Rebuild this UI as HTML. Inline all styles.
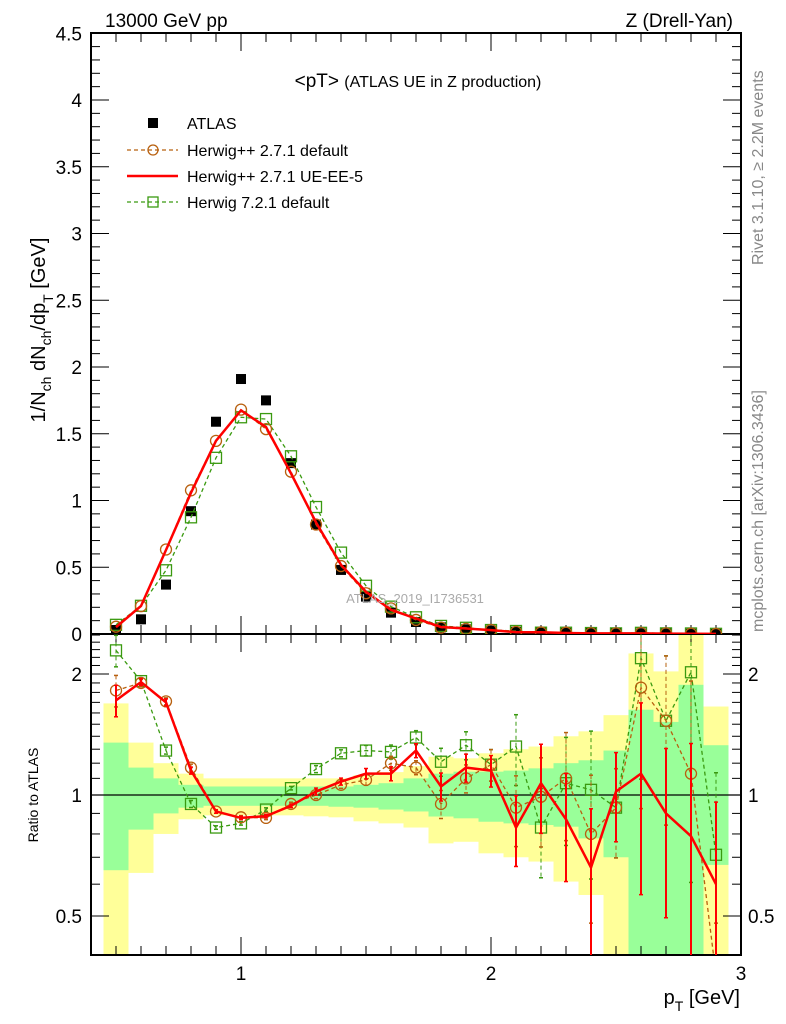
<!DOCTYPE html>
<html><head><meta charset="utf-8"><style>
html,body{margin:0;padding:0;background:#fff;width:786px;height:1024px;overflow:hidden;}
svg{display:block;font-family:"Liberation Sans",sans-serif;}
</style></head><body>
<svg id="c" width="786" height="1024" viewBox="0 0 786 1024" xmlns="http://www.w3.org/2000/svg">
<defs id="defs"></defs>
<g id="bands"></g>
<g id="grid"></g>
<g id="series"></g>
<text x="105" y="27" font-size="19">13000 GeV pp</text>
<text x="733" y="27" font-size="19" text-anchor="end">Z (Drell-Yan)</text>
<text x="418" y="87" font-size="19" text-anchor="middle">&lt;pT&gt; <tspan font-size="16">(ATLAS UE in Z production)</tspan></text>
<text x="415" y="603" font-size="13" fill="#aaa" text-anchor="middle">ATLAS_2019_I1736531</text>
<text transform="translate(763,265) rotate(-90)" font-size="16" fill="#888">Rivet 3.1.10, ≥ 2.2M events</text>
<text transform="translate(763,632) rotate(-90)" font-size="16" fill="#888">mcplots.cern.ch [arXiv:1306.3436]</text>
<text transform="translate(45,330) rotate(-90)" font-size="20" text-anchor="middle">1/N<tspan font-size="14" dy="6">ch</tspan><tspan dy="-6"> dN</tspan><tspan font-size="14" dy="6">ch</tspan><tspan dy="-6">/dp</tspan><tspan font-size="14" dy="8">T</tspan><tspan dy="-8"> [GeV]</tspan></text>
<text transform="translate(38,795) rotate(-90)" font-size="14" text-anchor="middle">Ratio to ATLAS</text>
<text x="740" y="1004" font-size="20" text-anchor="end">p<tspan font-size="14" dy="7">T</tspan><tspan dy="-7"> [GeV]</tspan></text>
<g id="legend">
<g><rect x="148" y="118" width="10" height="10" fill="#000"/><text x="187" y="129" font-size="16">ATLAS</text></g>
<g><line x1="127" y1="150" x2="178" y2="150" stroke="#b8600f" stroke-dasharray="4,3" stroke-width="1.3"/><circle cx="153" cy="150" r="5" fill="none" stroke="#b8600f" stroke-width="1.3"/><text x="187" y="156" font-size="16">Herwig++ 2.7.1 default</text></g>
<g><line x1="127" y1="176" x2="178" y2="176" stroke="#f00" stroke-width="2.5"/><text x="187" y="182" font-size="16">Herwig++ 2.7.1 UE-EE-5</text></g>
<g><line x1="127" y1="202" x2="178" y2="202" stroke="#3a9a10" stroke-dasharray="4,3" stroke-width="1.3"/><rect x="148" y="197" width="10" height="10" fill="none" stroke="#3a9a10" stroke-width="1.3"/><text x="187" y="208" font-size="16">Herwig 7.2.1 default</text></g>
</g>
</svg>
<script>
const pT=[0.5,0.6,0.7,0.8,0.9,1.0,1.1,1.2,1.3,1.4,1.5,1.6,1.7,1.8,1.9,2.0,2.1,2.2,2.3,2.4,2.5,2.6,2.7,2.8,2.9];
const atlas=[0.03,0.11,0.37,0.92,1.59,1.91,1.75,1.28,0.82,0.48,0.28,0.16,0.09,0.05,0.035,0.025,0.017,0.012,0.009,0.007,0.005,0.004,0.003,0.002,0.002];
const ratioUE=[1.72,1.91,1.70,1.15,0.91,0.877,0.886,0.94,1.02,1.08,1.13,1.13,1.29,1.05,1.17,1.15,0.83,1.07,0.87,0.66,1.02,1.13,0.90,0.79,0.60];
const ratioHppDef=[1.82,1.90,1.71,1.17,0.91,0.88,0.877,0.95,1.0,1.06,1.09,1.2,1.17,0.95,1.10,1.19,0.93,0.99,1.10,0.80,0.93,1.85,1.53,1.13,0.3];
const ratioH7=[2.29,1.92,1.29,0.95,0.83,0.85,0.92,1.04,1.16,1.27,1.29,1.28,1.39,1.21,1.33,1.19,1.32,0.83,1.07,1.03,0.93,2.19,1.53,2.02,0.71];
const relErr=[0.09,0.02,0.02,0.02,0.01,0.01,0.01,0.01,0.02,0.02,0.03,0.04,0.04,0.08,0.08,0.09,0.2,0.25,0.3,0.4,0.25,0.5,0.45,0.7,0.6];
const yelHi=[1.69,1.35,1.2,1.13,1.10,1.10,1.10,1.10,1.10,1.10,1.12,1.14,1.18,1.245,1.234,1.27,1.30,1.32,1.40,1.44,1.58,2.25,2.03,2.6,1.66];
const yelLo=[0.3,0.64,0.80,0.87,0.89,0.89,0.89,0.89,0.885,0.88,0.86,0.85,0.83,0.758,0.765,0.716,0.70,0.683,0.609,0.564,0.3,0.3,0.49,0.3,0.3];
const grnHi=[1.35,1.17,1.10,1.06,1.05,1.05,1.05,1.05,1.05,1.05,1.06,1.07,1.10,1.13,1.143,1.143,1.15,1.165,1.2,1.22,1.29,1.63,1.52,1.88,1.33];
const grnLo=[0.65,0.82,0.90,0.93,0.94,0.94,0.94,0.94,0.94,0.935,0.93,0.92,0.91,0.884,0.875,0.858,0.85,0.842,0.834,0.78,0.70,0.3,0.3,0.3,0.67];
const mainTicks=[0,0.5,1,1.5,2,2.5,3,3.5,4,4.5];
const xTicks=[1,2,3];
const ratioTicks=[0.5,1,2];

const NS="http://www.w3.org/2000/svg";
const X0=91,X1=741,Y0=634,YT=33,RB=955;
const xs=v=>X0+(v-0.4)/2.6*(X1-X0);
const ym=v=>Y0-v*133.5;
const yr=v=>{let y=795-121*Math.log2(v);return Math.max(Y0,Math.min(RB,y));};
const yrl=v=>{let y=795-121*Math.log2(Math.max(v,0.01));return Math.max(Y0-20,Math.min(RB+20,y));};
function el(tag,attrs,parent){const e=document.createElementNS(NS,tag);for(const k in attrs)e.setAttribute(k,attrs[k]);parent.appendChild(e);return e;}
const bands=document.getElementById('bands'),grid=document.getElementById('grid'),ser=document.getElementById('series'),defs=document.getElementById('defs');

pT.forEach((p,i)=>{
  const a=xs(p-0.05),b=xs(p+0.05);
  const yb=el('rect',{x:a,y:yr(yelHi[i]),width:b-a,height:yr(yelLo[i])-yr(yelHi[i]),fill:'#ffff99'},bands);
  
  
  const gb=el('rect',{x:a,y:yr(grnHi[i]),width:b-a,height:yr(grnLo[i])-yr(grnHi[i]),fill:'#99ff99'},bands);
  
  
});

el('rect',{x:X0,y:YT,width:X1-X0,height:Y0-YT,fill:'none',stroke:'#000','stroke-width':2},grid);
el('rect',{x:X0,y:Y0,width:X1-X0,height:RB-Y0,fill:'none',stroke:'#000','stroke-width':2},grid);
el('line',{x1:X0,y1:795,x2:X1,y2:795,stroke:'#000','stroke-width':1.2},grid);
for(let v=0;v<=4.5001;v+=0.1){const major=Math.abs(v*2-Math.round(v*2))<1e-6;const L=major?18:9;const y=ym(v);
  el('line',{x1:X0,y1:y,x2:X0+L,y2:y,stroke:'#000'},grid);el('line',{x1:X1,y1:y,x2:X1-L,y2:y,stroke:'#000'},grid);}
mainTicks.forEach(v=>{const t=el('text',{x:82,y:ym(v)+7,'font-size':19,'text-anchor':'end'},grid);t.textContent=String(v);
  
  });
for(let v=0.5;v<=2.95;v+=0.1){const major=Math.abs(v-Math.round(v))<1e-6;const L=major?18:9;const x=xs(v);
  [[YT,YT+L],[Y0,Y0-L],[Y0,Y0+L],[RB,RB-L]].forEach(q=>el('line',{x1:x,y1:q[0],x2:x,y2:q[1],stroke:'#000'},grid));}
xTicks.forEach(v=>{const t=el('text',{x:xs(v),y:980,'font-size':19,'text-anchor':'middle'},grid);t.textContent=String(v);
  
  });
[0.4,0.5,0.6,0.7,0.8,0.9,1,1.1,1.2,1.3,1.4,1.5,1.6,1.7,1.8,1.9,2,2.1,2.2,2.3,2.4,2.5].forEach(v=>{
  const major=(v===0.5||v===1||v===2);const L=major?18:9;const y=795-121*Math.log2(v);if(y<Y0||y>RB)return;
  el('line',{x1:X0,y1:y,x2:X0+L,y2:y,stroke:'#000'},grid);el('line',{x1:X1,y1:y,x2:X1-L,y2:y,stroke:'#000'},grid);});
ratioTicks.forEach(v=>{
  const t=el('text',{x:82,y:yr(v)+7,'font-size':19,'text-anchor':'end'},grid);t.textContent=String(v);
  
  
  const t2=el('text',{x:748,y:yr(v)+7,'font-size':19},grid);t2.textContent=String(v);
  
  });

const clipM=el('clipPath',{id:'cm'},defs);el('rect',{x:X0,y:YT,width:X1-X0,height:Y0-YT},clipM);
const clipR=el('clipPath',{id:'cr'},defs);el('rect',{x:X0,y:Y0,width:X1-X0,height:RB-Y0},clipR);

function drawSeries(name,ratio,color,dash,width,marker){
  const g=el('g',{},ser);
  
  
  const gm=el('g',{'clip-path':'url(#cm)'},g),gr=el('g',{'clip-path':'url(#cr)'},g);
  const mp=pT.map((p,i)=>xs(p)+','+ym(atlas[i]*ratio[i])).join(' ');
  const rp=pT.map((p,i)=>xs(p)+','+yrl(ratio[i])).join(' ');
  const la={fill:'none',stroke:color,'stroke-width':width};if(dash)la['stroke-dasharray']=dash;
  el('polyline',Object.assign({points:mp},la),gm);
  el('polyline',Object.assign({points:rp},la),gr);
  pT.forEach((p,i)=>{
    const x=xs(p),r=ratio[i];
    const hi=yrl(r*(1+relErr[i])),lo=yrl(r*(1-relErr[i]));
    const ea={x1:x,y1:hi,x2:x,y2:lo,stroke:color,'stroke-width':marker?1:2};if(dash)ea['stroke-dasharray']=dash;
    el('line',ea,gr);
    el('line',{x1:x-2,y1:hi,x2:x+2,y2:hi,stroke:color,'stroke-width':1.5},gr);
    el('line',{x1:x-2,y1:lo,x2:x+2,y2:lo,stroke:color,'stroke-width':1.5},gr);
    [[ym(atlas[i]*r),gm],[yrl(r),gr]].forEach(q=>{
      if(marker==='circle'){const m=el('circle',{cx:x,cy:q[0],r:5.5,fill:'none',stroke:color,'stroke-width':1.3},q[1]);
        
        }
      else if(marker==='square'){const m=el('rect',{x:x-5.5,y:q[0]-5.5,width:11,height:11,fill:'none',stroke:color,'stroke-width':1.3},q[1]);
        
        }
    });
  });
}
const ga=el('g',{'clip-path':'url(#cm)'},ser);


pT.forEach((p,i)=>{const r=el('rect',{x:xs(p)-5,y:ym(atlas[i])-5,width:10,height:10,fill:'#000'},ga);
  
  });
drawSeries('herwig7-default',ratioH7,'#3a9a10','4,3',1.3,'square');
drawSeries('herwigpp-default',ratioHppDef,'#b8600f','4,3',1.3,'circle');
drawSeries('herwigpp-ue-ee-5',ratioUE,'#ff0000',null,2.5,null);
</script>
</body></html>
